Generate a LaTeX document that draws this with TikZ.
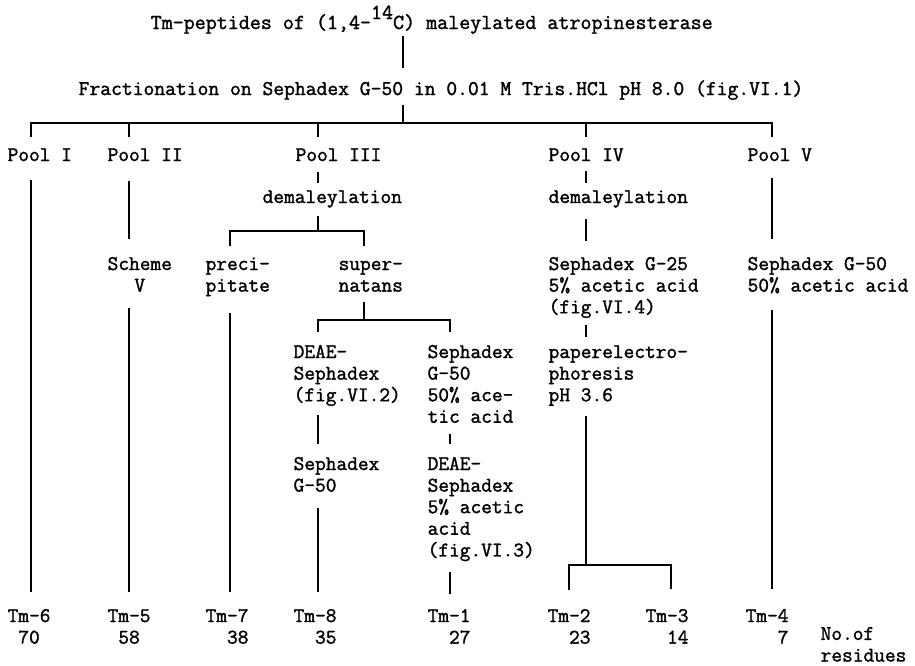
\documentclass[tikz,border=0pt]{standalone}
\usepackage{fontspec}
\newfontfamily\twfont{Latin Modern Mono}[FakeBold=1.5]
\begin{document}
\begin{tikzpicture}[x=1pt, y=-1pt, line width=1.3pt,
    tw/.style={anchor=base west, inner sep=0pt, align=left,
      font=\fontsize{20.8}{21.6}\selectfont\twfont},
    head/.style={tw, font=\fontsize{21}{21.6}\selectfont\twfont},
  ]
  \useasboundingbox (0,0) rectangle (915,665);
  % columns of the vertical lines
  \coordinate (cTop) at (403,0);
  \coordinate (cI) at (31,0);
  \coordinate (cII) at (129,0);
  \coordinate (cP) at (230,0);
  \coordinate (cIII) at (318,0);
  \coordinate (cS) at (364,0);
  \coordinate (cR) at (450,0);
  \coordinate (cT2) at (569,0);
  \coordinate (cIV) at (586,0);
  \coordinate (cT3) at (671,0);
  \coordinate (cV) at (772,0);
  % where the brackets branch
  \coordinate (bus1) at (403,123);
  \coordinate (bus2) at (318,231);
  \coordinate (bus3) at (364,320);
  \coordinate (bus4) at (586,565);

  % base anchor = baseline of the last line
  \node[head, font=\fontsize{21.4}{21.6}\selectfont\twfont] (title) at (150,29) {Tm-peptides of (1,4-\raisebox{10pt}{14}C) maleylated atropinesterase};
  \node[head] (frac) at (78,95) {Fractionation on Sephadex G-50 in 0.01 M Tris.HCl pH 8.0 (fig.VI.1)};
  \node[tw] (pool1) at (7,161) {Pool I};
  \node[tw] (pool2) at (107,161) {Pool II};
  \node[tw] (pool3) at (295,161) {Pool III};
  \node[tw] (pool4) at (548,161) {Pool IV};
  \node[tw] (pool5) at (747,161) {Pool V};
  \node[tw] (dem3) at (262,203) {demaleylation};
  \node[tw] (dem4) at (548,203) {demaleylation};
  \node[tw, align=center] (scheme) at (107,291.6) {Scheme\\V};
  \node[tw] (prec) at (205,291.6) {preci-\\pitate};
  \node[tw] (super) at (338,291.6) {super-\\natans};
  \node[tw] (g25) at (548,313.2) {Sephadex G-25\\5\% acetic acid\\(fig.VI.4)};
  \node[tw] (g50v) at (747,291.6) {Sephadex G-50\\50\% acetic acid};
  \node[tw] (deae1) at (293,401.2) {DEAE-\\Sephadex\\(fig.VI.2)};
  \node[tw] (g50r) at (427,422.8) {Sephadex\\G-50\\50\% ace-\\tic acid};
  \node[tw] (paper) at (548,401.2) {paperelectro-\\phoresis\\pH 3.6};
  \node[tw] (sep8) at (293,491.6) {Sephadex\\G-50};
  \node[tw] (deae2) at (427,556.4) {DEAE-\\Sephadex\\5\% acetic\\acid\\(fig.VI.3)};
  \node[tw, align=center] (tm6) at (7,643.6) {Tm-6\\70};
  \node[tw, align=center] (tm5) at (107,643.6) {Tm-5\\58};
  \node[tw, align=right] (tm7) at (205,643.6) {Tm-7\\38};
  \node[tw, align=right] (tm8) at (293,643.6) {Tm-8\\35};
  \node[tw, align=right] (tm1) at (427,643.6) {Tm-1\\27};
  \node[tw, align=right] (tm2) at (547,643.6) {Tm-2\\23};
  \node[tw, align=right] (tm3) at (645,643.6) {Tm-3\\14};
  \node[tw, align=right] (tm4) at (745,643.6) {Tm-4\\7};
  \node[tw] (nres) at (820,661.5) {No.of\\residues};

  % trunk
  \draw[shorten <=1pt, shorten >=12pt] (title.south -| cTop) -- (frac.north -| cTop);
  \draw[shorten <=5pt] (frac.south -| cTop) -- (bus1);
  \draw[shorten <=11pt, shorten >=11pt] (pool1.north -| cI) |- (bus1) -| (pool5.north -| cV);
  \foreach \p/\c in {pool2/cII, pool3/cIII, pool4/cIV}
    \draw[shorten >=11pt] (bus1 -| \c) -- (\p.north -| \c);

  % pools I, II and V
  \draw[shorten <=18pt, shorten >=16.5pt] (pool1.south -| cI) -- (tm6.north -| cI);
  \draw[shorten <=19pt, shorten >=17.5pt] (pool2.south -| cII) -- (scheme.north -| cII);
  \draw[shorten <=15.5pt, shorten >=16.5pt] (scheme.south -| cII) -- (tm5.north -| cII);
  \draw[shorten <=16pt, shorten >=17.5pt] (pool5.south -| cV) -- (g50v.north -| cV);
  \draw[shorten <=16.5pt, shorten >=19.5pt] (g50v.south -| cV) -- (tm4.north -| cV);

  % pool III
  \draw[shorten <=10pt, shorten >=7pt] (pool3.south -| cIII) -- (dem3.north -| cIII);
  \draw[shorten <=7.5pt] (dem3.south -| cIII) -- (bus2);
  \draw[shorten <=10.5pt, shorten >=14pt] (prec.north -| cP) |- (bus2) -| (super.north -| cS);
  \draw[shorten <=16pt, shorten >=16.5pt] (prec.south -| cP) -- (tm7.north -| cP);
  \draw[shorten <=9.5pt] (super.south -| cS) -- (bus3);
  \draw[shorten <=12.5pt, shorten >=12pt] (deae1.north -| cIII) |- (bus3) -| (g50r.north -| cR);
  \draw[shorten <=8.5pt, shorten >=12pt] (deae1.south -| cIII) -- (sep8.north -| cIII);
  \draw[shorten <=15.5pt, shorten >=16.5pt] (sep8.south -| cIII) -- (tm8.north -| cIII);
  \draw[shorten <=10pt, shorten >=12.5pt] (g50r.south -| cR) -- (deae2.north -| cR);
  \draw[shorten <=10.5pt, shorten >=14.5pt] (deae2.south -| cR) -- (tm1.north -| cR);

  % pool IV
  \draw[shorten <=9pt, shorten >=7pt] (pool4.south -| cIV) -- (dem4.north -| cIV);
  \draw[shorten <=10.5pt, shorten >=15.5pt] (dem4.south -| cIV) -- (g25.north -| cIV);
  \draw[shorten <=6.5pt, shorten >=8pt] (g25.south -| cIV) -- (paper.north -| cIV);
  \draw[shorten <=9.5pt] (paper.south -| cIV) -- (bus4);
  \draw[shorten <=18pt, shorten >=19pt] (tm2.north -| cT2) |- (bus4) -| (tm3.north -| cT3);
\end{tikzpicture}
\end{document}
